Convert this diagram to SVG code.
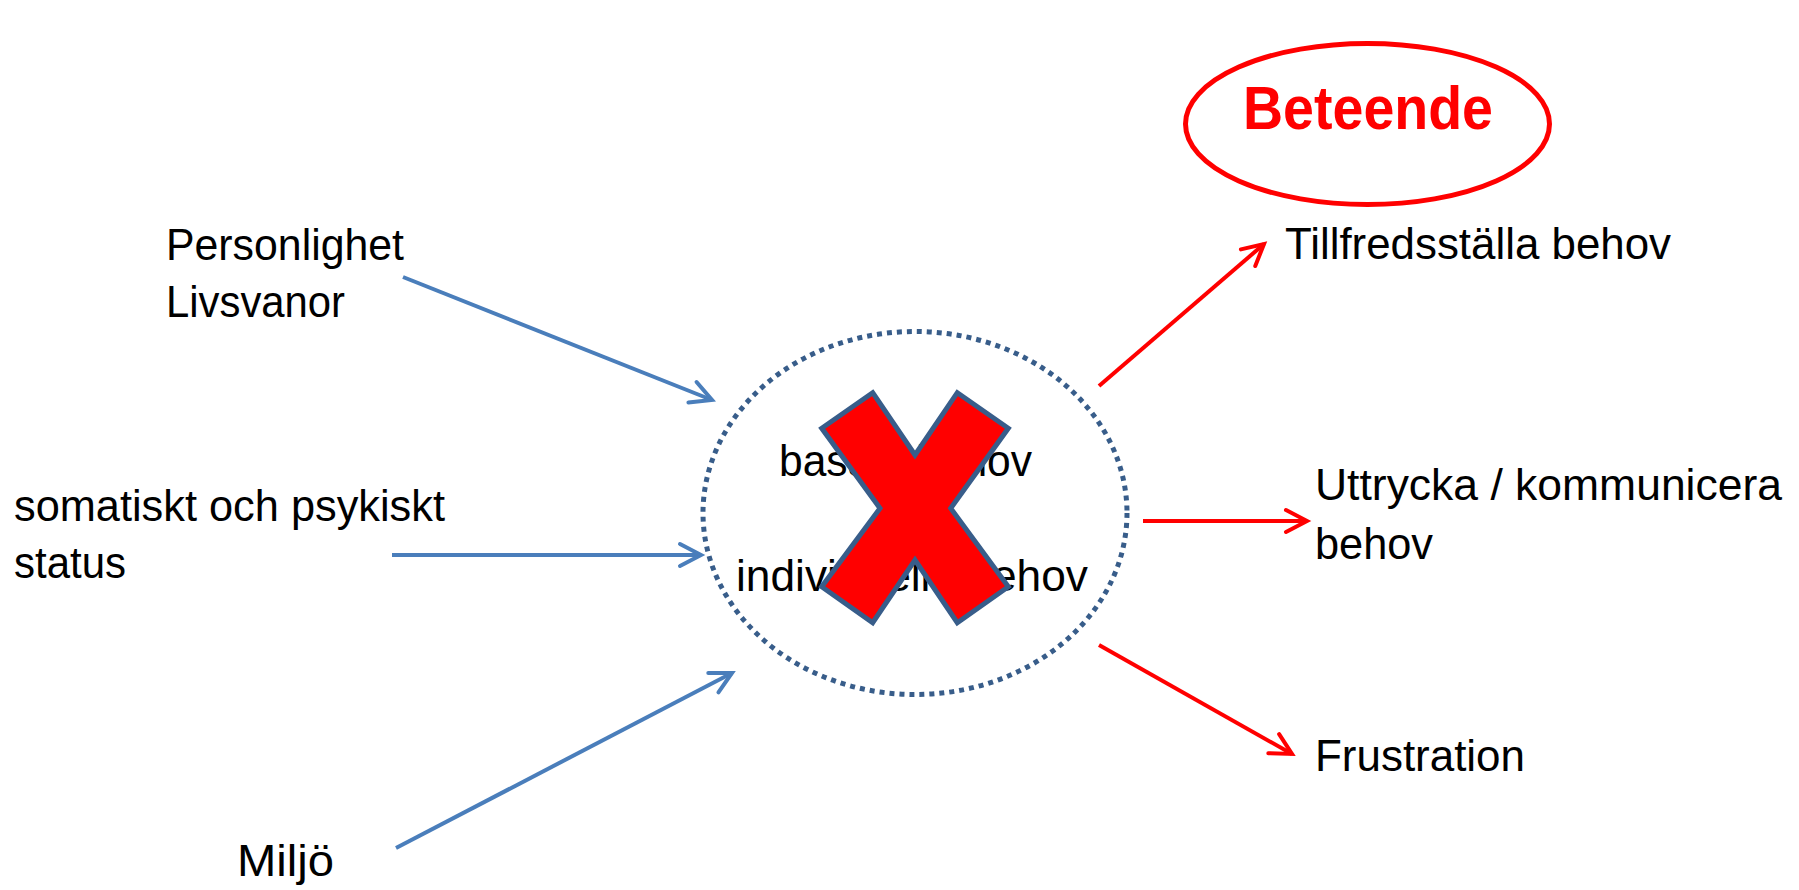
<svg xmlns="http://www.w3.org/2000/svg" width="1799" height="890" viewBox="0 0 1799 890">
  <style>
    .lbl { font-family: "Liberation Sans", Arial, sans-serif; font-size: 45px; fill: #000000; }
    .title { font-family: "Liberation Sans", Arial, sans-serif; font-size: 62px; font-weight: bold; fill: #FF0000; }
    .in { fill: none; stroke: #4A7EBB; stroke-width: 4; }
    .out { fill: none; stroke: #FF0000; stroke-width: 4; }
  </style>
  <defs>
    <marker id="arrow-blue" markerUnits="userSpaceOnUse" markerWidth="40" markerHeight="40" viewBox="-30 -20 40 40" refX="0" refY="0" orient="auto">
      <path d="M -21 -11 L 0 0 L -21 11" fill="none" stroke="#4A7EBB" stroke-width="4" stroke-linecap="round"/>
    </marker>
    <marker id="arrow-red" markerUnits="userSpaceOnUse" markerWidth="40" markerHeight="40" viewBox="-30 -20 40 40" refX="0" refY="0" orient="auto">
      <path d="M -21 -11 L 0 0 L -21 11" fill="none" stroke="#FF0000" stroke-width="4" stroke-linecap="round"/>
    </marker>
  </defs>
  <rect width="1799" height="890" fill="#FFFFFF"/>

  <!-- connectors -->
  <g id="connectors">
    <line class="in" x1="403" y1="277" x2="712" y2="400" marker-end="url(#arrow-blue)"/>
    <line class="in" x1="392" y1="555" x2="701" y2="555" marker-end="url(#arrow-blue)"/>
    <line class="in" x1="396" y1="848" x2="732" y2="673" marker-end="url(#arrow-blue)"/>
    <line class="out" x1="1099" y1="386" x2="1264" y2="244" marker-end="url(#arrow-red)"/>
    <line class="out" x1="1143" y1="521" x2="1307" y2="521" marker-end="url(#arrow-red)"/>
    <line class="out" x1="1099" y1="645" x2="1292" y2="754" marker-end="url(#arrow-red)"/>
  </g>

  <!-- input factors -->
  <g id="personlighet">
    <text class="lbl" x="166" y="260" textLength="238" lengthAdjust="spacingAndGlyphs">Personlighet</text>
    <text class="lbl" x="166" y="317" textLength="179" lengthAdjust="spacingAndGlyphs">Livsvanor</text>
  </g>
  <g id="status">
    <text class="lbl" x="14" y="521" textLength="431" lengthAdjust="spacingAndGlyphs">somatiskt och psykiskt</text>
    <text class="lbl" x="14" y="578" textLength="112" lengthAdjust="spacingAndGlyphs">status</text>
  </g>
  <g id="miljo">
    <text class="lbl" x="237" y="876" textLength="97" lengthAdjust="spacingAndGlyphs">Miljö</text>
  </g>

  <!-- needs (crossed out) -->
  <g id="behov">
    <ellipse cx="915" cy="513" rx="212" ry="181.5" fill="none" stroke="#385D8A" stroke-width="5" stroke-dasharray="5 5"/>
    <text class="lbl" x="779" y="476" textLength="253" lengthAdjust="spacingAndGlyphs">basala behov</text>
    <text class="lbl" x="736" y="591" textLength="352" lengthAdjust="spacingAndGlyphs">individuella behov</text>
    <polygon points="872.7,392.7 915,455 957.3,392.7 1008.3,428.3 950.7,508.3 1008.3,586.7 957.3,622.7 915,560 872.7,622.7 821.7,586.7 880,508.3 821.7,428.3" fill="#FF0000" stroke="#385D8A" stroke-width="5" stroke-linejoin="miter"/>
  </g>

  <!-- outcomes -->
  <g id="beteende">
    <ellipse cx="1367.5" cy="124" rx="182" ry="80.5" fill="none" stroke="#FF0000" stroke-width="5"/>
    <text class="title" x="1243" y="129" textLength="250" lengthAdjust="spacingAndGlyphs">Beteende</text>
  </g>
  <g id="tillfredsstalla">
    <text class="lbl" x="1285" y="259" textLength="386" lengthAdjust="spacingAndGlyphs">Tillfredsställa behov</text>
  </g>
  <g id="uttrycka">
    <text class="lbl" x="1315" y="500" textLength="467" lengthAdjust="spacingAndGlyphs">Uttrycka / kommunicera</text>
    <text class="lbl" x="1315" y="559" textLength="118" lengthAdjust="spacingAndGlyphs">behov</text>
  </g>
  <g id="frustration">
    <text class="lbl" x="1315" y="771" textLength="210" lengthAdjust="spacingAndGlyphs">Frustration</text>
  </g>
</svg>
